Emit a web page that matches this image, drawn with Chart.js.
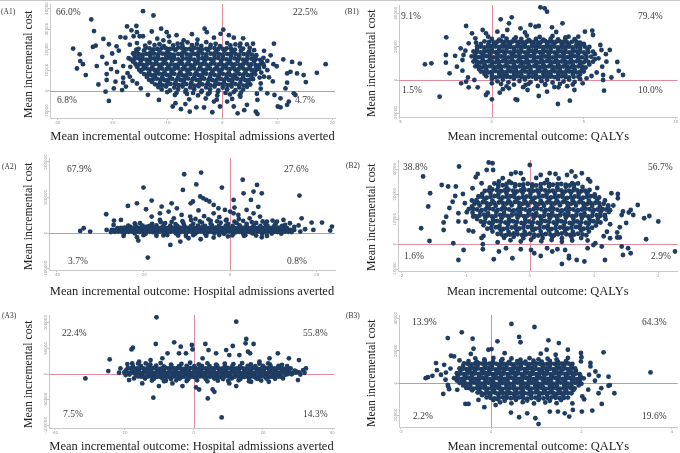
<!DOCTYPE html>
<html>
<head>
<meta charset="utf-8">
<script src="https://cdn.jsdelivr.net/npm/chart.js@4.4.1/dist/chart.umd.min.js"></script>
<style>
  body { margin: 0; background: #fff; }
  #fig { position: relative; width: 680px; height: 453px; overflow: hidden; background: #fff; }
  #topline { position: absolute; left: 0; top: 0; width: 680px; height: 1px; background: #c8c8c8; }
  .panel { position: absolute; }
  .tag, .pct { position: absolute; font-family: "Liberation Serif", serif; line-height: 1; transform: translateY(-50%); white-space: nowrap; }
  .tag { font-size: 7.5px; color: #333; }
  .pct { font-size: 9.5px; color: #3a3a3a; }
</style>
</head>
<body>
<div id="fig"><div id="topline"></div></div>
<script>
// titles
const costTitle = "Mean incremental cost";
const outcomeHosp = "Mean incremental outcome: Hospital admissions averted";
const outcomeQaly = "Mean incremental outcome: QALYs";

// quadrant shares: NW, NE, SW, SE
const a1Quadrants = ["66.0%", "22.5%", "6.8%", "4.7%"];
const b1Quadrants = ["9.1%", "79.4%", "1.5%", "10.0%"];
const a2Quadrants = ["67.9%", "27.6%", "3.7%", "0.8%"];
const b2Quadrants = ["38.8%", "56.7%", "1.6%", "2.9%"];
const a3Quadrants = ["22.4%", "55.8%", "7.5%", "14.3%"];
const b3Quadrants = ["13.9%", "64.3%", "2.2%", "19.6%"];

// tick values
const a1XTicks = [-30, -20, -10, 0, 10, 20];
const a1YTicks = [-10000, 0, 10000, 20000, 30000, 40000];
const b1XTicks = [-5, 0, 5, 10];
const b1YTicks = [-20000, 0, 20000, 40000];
const a2XTicks = [-40, -20, 0, 20];
const a2YTicks = [-100000, 0, 100000, 200000];
const b2XTicks = [-2, -1, 0, 1, 2];
const b2YTicks = [-10000, 0, 10000, 20000, 30000];
const a3XTicks = [-40, -20, 0, 20, 40];
const a3YTicks = [-100000, -50000, 0, 50000, 100000];
const b3XTicks = [-2, 0, 2, 4];
const b3YTicks = [-20000, 0, 20000, 40000];

// bootstrap replicates: [outcome, cost in thousands]
const a1Points = [
  [-14.4,38.7],[-12.5,36.6],[-23.8,34.7],[-23.3,29.0],[-27.1,20.5],[-25.9,17.7],[-25.8,14.4],[-26.4,10.8],[-25.3,12.9],[-24.8,7.6],
  [-23.5,21.3],[-23.0,21.9],[-21.6,25.2],[-20.6,22.6],[-21.8,16.5],[-21.0,13.2],[-21.0,8.1],[-21.0,5.2],[-21.2,-0.5],[-20.6,-5.0],
  [-19.7,1.1],[-19.4,4.4],[-19.1,9.2],[-20.0,18.1],[-19.2,21.6],[-18.5,26.1],[-17.6,25.8],[-18.2,0.3],[-18.0,3.9],[-17.3,31.3],
  [-16.5,29.4],[-15.6,31.5],[-15.5,28.5],[-16.1,26.5],[-15.0,26.5],[-14.4,26.5],[-15.5,23.2],[-15.6,20.0],[-16.2,18.1],[-16.7,11.6],
  [-16.8,6.8],[-15.5,3.5],[-14.8,1.1],[-11.1,30.2],[-10.1,28.5],[-11.8,25.3],[-10.7,24.5],[-9.7,26.5],[-9.0,-7.7],[-8.5,-6.1],
  [-6.7,-6.5],[-5.9,-10.2],[-4.7,-8.1],[-3.3,-8.2],[-3.2,30.2],[-2.8,28.5],[-0.3,27.7],[0.2,29.7],[-7.0,24.5],[-7.3,22.9],
  [-4.5,24.8],[2.1,25.8],[3.3,22.9],[5.6,22.9],[5.8,19.7],[9.4,22.9],[8.2,14.5],[9.3,12.9],[11.1,15.2],[9.9,11.9],
  [12.7,14.0],[14.1,13.2],[12.4,9.2],[11.8,8.4],[13.6,8.4],[14.8,7.6],[17.2,8.7],[18.8,12.9],[15.2,4.2],[11.8,3.9],
  [11.5,1.1],[10.6,-3.7],[10.1,-7.7],[10.6,-8.1],[11.8,-6.9],[12.1,-5.3],[13.3,-2.1],[13.0,-1.3],[9.5,-2.1],[8.2,-1.3],
  [6.4,-4.5],[6.1,-10.2],[6.4,-11.3],[2.8,-11.0],[2.1,-7.7],[4.5,-6.9],[-0.4,-7.7],[-1.5,-5.3],[0.9,-5.3],[3.3,-2.9],
  [7.0,3.5],[7.6,6.8],[8.2,10.0],[6.1,10.0],[7.6,11.6],
  [-18,12],[-17,15.8],[-18.8,19.5],[-17.2,8.5],[-19.5,14],[-16.8,22.4],[-18,6.3],[-20.2,10.5],[-17.5,2],[-16.3,4.8],
  [7.5,16],[8.5,6.5],[9.2,4.5],[7,1],[6.3,-1.5],[8.8,17.2],[5,20.8],[4.5,22.5],[7.6,19.4],[-22.5,3],
  [-22.8,12],[-13.5,-2],[-11.5,-4.5],[-7.5,-9],[-1.8,-10.5],[4,-9.5],[-12.8,28.8],[-8.3,27],[-5.5,27.5],[-1.5,25.8],
  [1.2,27],[3.8,25.5],
  [-13.2,23.4],[-11.4,22.6],[-9.6,23.8],[-8.1,22.9],[-6.3,23.5],[-4.6,22.7],[-2.9,23.6],[-1.2,22.8],[0.9,23.2],[2.4,22.5],
  [-14.0,21.9],[-12.3,22.2],[-10.6,21.7],[-8.9,22.1],[-7.2,21.6],[-5.5,22.2],[-3.8,21.8],[-2.1,22.3],[-0.4,21.7],[1.5,22.0],[3.2,21.5],
  [-15.2,20.4],[-13.9,20.9],[-12.5,20.1],[-11.0,20.7],[-9.5,20.3],[-8.0,21.0],[-6.6,20.2],[-5.1,20.8],[-3.7,20.1],[-2.2,20.9],
  [-0.7,20.3],[0.8,20.6],[2.3,20.0],[3.8,20.5],
  [-13.2,20.6],[-11.8,20.3],[-10.2,20.6],[-8.8,20.4],[-7.3,20.7],[-5.9,20.4],[-4.4,20.5],[-2.9,20.4],[-1.4,20.7],[0.1,20.4],[1.6,20.3],
  [-15.6,19.2],[-14.2,19.6],[-12.8,19.0],[-11.4,19.5],[-9.9,19.1],[-8.5,19.7],[-7.0,19.2],[-5.5,19.5],[-4.1,19.0],[-2.6,19.6],
  [-1.1,19.1],[0.4,19.5],[1.9,19.0],[3.4,19.4],[4.9,19.1],
  [-16.0,18.1],[-14.5,17.6],[-13.1,18.3],[-11.7,17.7],[-10.2,18.2],[-8.8,17.5],[-7.3,18.1],[-5.8,17.6],[-4.4,18.3],[-2.9,17.7],
  [-1.4,18.2],[0.1,17.5],[1.6,18.1],[3.1,17.6],[4.6,18.0],[6.2,17.3],
  [-15.2,17.9],[-13.8,17.9],[-12.4,18.0],[-10.9,18.0],[-9.5,17.8],[-8.0,17.8],[-6.5,17.9],[-5.1,17.9],[-3.6,18.0],[-2.1,18.0],
  [-0.6,17.8],[0.9,17.8],[2.4,17.9],[3.9,17.8],[5.4,17.6],
  [-15.9,16.9],[-14.5,16.5],[-13.1,17.0],[-11.7,16.6],[-10.2,17.1],[-8.8,16.4],[-7.3,16.9],[-5.8,16.5],[-4.4,17.0],[-2.9,16.6],
  [-1.4,17.1],[0.1,16.4],[1.6,16.9],[3.1,16.5],[4.6,16.9],[6.0,16.4],
  [-16.6,15.2],[-15.2,15.8],[-13.8,15.1],[-12.4,15.7],[-10.9,15.3],[-9.5,15.9],[-8.0,15.2],[-6.5,15.7],[-5.1,15.1],[-3.6,15.8],
  [-2.1,15.3],[-0.7,15.9],[0.8,15.2],[2.3,15.7],[3.8,15.1],[5.3,15.6],[6.9,15.0],
  [-15.9,15.5],[-14.5,15.4],[-13.1,15.4],[-11.6,15.5],[-10.2,15.6],[-8.7,15.5],[-7.2,15.4],[-5.8,15.4],[-4.3,15.5],[-2.8,15.6],
  [-1.4,15.6],[0.1,15.5],[1.5,15.4],[3.0,15.4],[4.5,15.3],[6.1,15.3],
  [-16.2,14.1],[-14.8,14.5],[-13.4,14.0],[-12.0,14.4],[-10.5,14.0],[-9.1,14.6],[-7.6,14.1],[-6.1,14.4],[-4.7,13.9],[-3.2,14.5],
  [-1.7,14.0],[-0.2,14.4],[1.3,13.9],[2.8,14.5],[4.3,14.0],[5.8,14.3],[7.2,13.9],
  [-15.8,13.1],[-14.4,12.6],[-13.0,13.3],[-11.6,12.7],[-10.2,13.2],[-8.7,12.5],[-7.3,13.1],[-5.8,12.6],[-4.3,13.3],[-2.9,12.7],
  [-1.4,13.2],[0.1,12.5],[1.6,13.1],[3.1,12.6],[4.6,13.2],[6.1,12.4],[7.5,12.9],
  [-15.1,12.8],[-13.7,12.9],[-12.3,13.0],[-10.9,12.9],[-9.4,12.8],[-8.0,12.8],[-6.5,12.8],[-5.0,12.9],[-3.6,13.0],[-2.1,12.9],
  [-0.6,12.8],[0.8,12.8],[2.3,12.8],[3.8,12.9],[5.3,12.8],[6.8,12.6],
  [-15.5,11.7],[-14.1,12.0],[-12.7,11.5],[-11.3,12.0],[-9.8,11.6],[-8.4,12.1],[-6.9,11.6],[-5.4,12.0],[-4.0,11.5],[-2.5,12.1],
  [-1.0,11.6],[0.5,12.0],[2.0,11.5],[3.5,12.0],[5.0,11.6],[6.4,11.9],
  [-15.1,10.2],[-13.7,10.8],[-12.3,10.1],[-10.9,10.7],[-9.4,10.3],[-8.0,10.9],[-6.5,10.2],[-5.1,10.8],[-3.6,10.1],[-2.2,10.7],
  [-0.7,10.2],[0.8,10.9],[2.3,10.3],[3.8,10.8],[5.3,10.1],[6.7,10.6],
  [-14.4,10.5],[-13.0,10.4],[-11.6,10.4],[-10.1,10.5],[-8.7,10.6],[-7.2,10.5],[-5.8,10.5],[-4.3,10.4],[-2.9,10.4],[-1.4,10.4],
  [0.0,10.5],[1.5,10.6],[3.0,10.5],[4.5,10.4],[6.0,10.3],
  [-14.8,9.3],[-13.3,8.9],[-11.9,9.4],[-10.5,8.9],[-9.1,9.5],[-7.6,9.0],[-6.2,9.4],[-4.7,8.9],[-3.3,9.5],[-1.8,9.0],
  [-0.3,9.4],[1.2,8.9],[2.7,9.5],[4.2,9.0],[5.7,9.3],[7.1,8.8],
  [-14.2,8.1],[-12.9,7.6],[-11.5,8.3],[-10.1,7.7],[-8.7,8.2],[-7.2,7.5],[-5.8,8.1],[-4.3,7.6],[-2.9,8.3],[-1.4,7.7],
  [0.1,8.2],[1.6,7.5],[3.1,8.1],[4.6,7.6],[6.0,8.0],
  [-13.5,7.8],[-12.2,7.9],[-10.8,8.0],[-9.4,7.9],[-7.9,7.8],[-6.5,7.8],[-5.0,7.8],[-3.6,7.9],[-2.1,8.0],[-0.6,7.9],
  [0.8,7.8],[2.3,7.8],[3.8,7.8],[5.3,7.8],
  [-13.7,6.7],[-12.3,7.0],[-10.9,6.5],[-9.5,7.1],[-8.0,6.6],[-6.6,7.0],[-5.1,6.5],[-3.7,7.1],[-2.2,6.6],[-0.7,7.0],
  [0.8,6.5],[2.3,7.0],[3.8,6.6],[5.3,6.9],[6.8,6.4],
  [-13.3,5.3],[-11.9,5.8],[-10.5,5.1],[-9.1,5.7],[-7.6,5.2],[-6.2,5.9],[-4.7,5.3],[-3.3,5.8],[-1.8,5.1],[-0.3,5.7],
  [1.2,5.2],[2.7,5.8],[4.2,5.1],[5.6,5.6],
  [-12.6,5.5],[-11.2,5.4],[-9.8,5.4],[-8.3,5.4],[-6.9,5.5],[-5.4,5.6],[-4.0,5.5],[-2.5,5.4],[-1.0,5.4],[0.4,5.4],
  [1.9,5.5],[3.4,5.4],[4.9,5.3],
  [-12.8,4.3],[-11.3,3.9],[-9.9,4.4],[-8.5,3.9],[-7.0,4.5],[-5.6,4.0],[-4.1,4.4],[-2.6,3.9],[-1.2,4.5],[0.3,4.0],
  [1.8,4.4],[3.3,3.9],[4.7,4.3],
  [-12.2,3.1],[-10.8,2.6],[-9.4,3.3],[-7.9,2.7],[-6.5,3.2],[-5.0,2.5],[-3.6,3.1],[-2.1,2.6],[-0.6,3.3],[0.9,2.7],
  [2.4,3.2],[3.9,2.5],[5.1,3.0],
  [-11.5,2.8],[-10.1,2.9],[-8.6,3.0],[-7.2,2.9],[-5.7,2.8],[-4.3,2.8],[-2.8,2.8],[-1.3,2.9],[0.1,3.0],[1.6,2.9],
  [3.1,2.8],[4.5,2.7],
  [-11.6,1.7],[-10.2,2.0],[-8.7,1.5],[-7.2,2.0],[-5.8,1.6],[-4.3,2.1],[-2.9,1.6],[-1.4,2.0],[0.1,1.5],[1.7,2.0],[3.1,1.6],[4.5,1.9],
  [-11.0,0.6],[-9.5,0.1],[-8.0,0.8],[-6.6,0.2],[-5.1,0.7],[-3.7,0.0],[-2.2,0.6],[-0.7,0.1],[0.9,0.7],[2.4,0.2],[3.8,0.5],
  [-10.0,-0.7],[-8.3,-1.0],[-6.7,-0.6],[-5.3,-1.1],[-3.8,-0.7],[-2.3,-1.0],[-0.8,-0.6],[0.6,-1.1],[2.1,-0.7],[3.4,-1.0],
  [-8.6,-2.1],[-6.4,-1.6],[-4.4,-2.3],[-2.6,-1.7],[-0.9,-2.4],[1.4,-1.8],[3.2,-2.2],
  [-6.0,-4.2],[-3.0,-3.8],[-1.0,-4.4],[1.8,-4.0]
];

const b1Points = [
  [2.64,43.6],[2.87,43.0],[3.0,41.0],[0.48,36.4],[1.08,37.6],[-1.4,32.4],[-2.48,25.6],[-3.64,9.4],[-3.29,10.0],[-2.5,15.0],
  [-2.5,10.4],[-2.3,4.0],[-2.84,-10.0],[-1.67,-2.0],[-1.6,5.6],[-1.54,15.0],[-1.44,17.6],[-1.26,22.0],[-1.08,28.0],[-0.86,22.4],
  [-1.26,-4.4],[-0.77,-4.4],[-0.95,0.0],[-0.5,30.0],[-0.32,28.0],[-0.23,-7.6],[0.0,-11.6],[0.0,-2.0],[0.93,34.0],[0.84,30.0],
  [1.56,31.0],[2.1,33.0],[2.37,32.0],[2.55,32.4],[3.27,31.6],[3.84,34.0],[4.17,26.0],[4.7,26.0],[5.06,29.0],[5.46,29.6],
  [5.5,27.0],[4.8,22.4],[5.96,18.0],[6.41,18.0],[6.23,11.0],[6.82,10.8],[7.13,3.0],[6.05,3.0],[6.05,0.0],[6.1,-6.4],
  [5.42,2.4],[4.24,-12.4],[3.59,-14.4],[2.55,-9.6],[1.29,-11.6],[1.38,-12.0],[0.43,-7.6],[-0.32,-9.0],[0.93,-5.0],[1.94,-6.0],
  [3.0,-7.0],[1.83,-3.0],[3.62,-4.4],[4.49,-6.0],[4.94,-2.0],[5.15,1.0],
  [-1.6,12],[-1.9,8],[-2.0,14.5],[-1.3,1.5],[-1.7,19],[5.8,13],[6.0,8],[5.7,4.5],[6.2,15.5],[5.9,21],
  [-0.2,26],[0.3,29],[1.8,28.5],[3.5,28.8],[4.5,24.5],[-1.4,-1],[6.9,5.5],[6.5,1.5],[-0.9,25],[2.9,-2.5],[0.6,-5.5],
  [0.6,26.3],[1.3,25.6],[1.9,26.6],[2.6,25.8],[3.3,26.4],[4.0,25.5],
  [0.0,24.6],[0.4,24.2],[0.8,24.8],[1.2,24.3],[1.6,24.7],[2.0,24.1],[2.4,24.6],[2.8,24.2],[3.2,24.8],[3.6,24.3],[4.0,24.6],
  [-0.4,23.2],[0.1,22.6],[0.5,23.4],[0.9,22.7],[1.3,23.3],[1.7,22.5],[2.1,23.1],[2.5,22.6],[2.9,23.4],[3.3,22.8],
  [3.7,23.2],[4.1,22.5],[4.6,23.0],
  [-0.6,21.6],[-0.2,21.2],[0.2,21.8],[0.6,21.3],[1.0,21.7],[1.4,21.1],[1.8,21.6],[2.2,21.2],[2.6,21.8],[3.0,21.3],
  [3.4,21.7],[3.8,21.1],[4.2,21.6],[4.6,21.2],[5.0,21.6],
  [-0.8,20.2],[-0.4,19.6],[0.0,20.4],[0.4,19.8],[0.8,20.3],[1.2,19.5],[1.6,20.1],[2.0,19.6],[2.4,20.4],[2.8,19.7],
  [3.2,20.2],[3.6,19.5],[4.0,20.1],[4.4,19.6],[4.8,20.3],[5.3,19.8],
  [-0.8,18.6],[-0.4,18.2],[0.0,18.8],[0.4,18.3],[0.8,18.7],[1.2,18.1],[1.6,18.6],[2.0,18.2],[2.4,18.8],[2.8,18.3],
  [3.2,18.7],[3.6,18.1],[4.0,18.6],[4.4,18.2],[4.8,18.7],[5.2,18.2],
  [-1.0,17.1],[-0.6,16.6],[-0.2,17.3],[0.2,16.7],[0.6,17.2],[1.0,16.5],[1.4,17.1],[1.8,16.6],[2.2,17.3],[2.6,16.7],
  [3.0,17.2],[3.4,16.5],[3.8,17.1],[4.2,16.6],[4.6,17.2],[5.0,16.5],[5.5,17.0],
  [-0.9,15.6],[-0.5,15.2],[-0.1,15.8],[0.3,15.3],[0.7,15.7],[1.1,15.1],[1.5,15.6],[1.9,15.2],[2.3,15.8],[2.7,15.3],
  [3.1,15.7],[3.5,15.1],[3.9,15.6],[4.3,15.2],[4.7,15.7],[5.1,15.2],[5.6,15.5],
  [-1.1,14.2],[-0.7,13.7],[-0.3,14.3],[0.1,13.6],[0.5,14.1],[0.9,13.5],[1.3,14.2],[1.7,13.7],[2.1,14.3],[2.5,13.6],
  [2.9,14.1],[3.3,13.5],[3.7,14.2],[4.1,13.7],[4.5,14.3],[4.9,13.6],[5.4,14.0],
  [-0.9,12.6],[-0.5,12.2],[-0.1,12.8],[0.3,12.3],[0.7,12.7],[1.1,12.1],[1.5,12.6],[1.9,12.2],[2.3,12.8],[2.7,12.3],
  [3.1,12.7],[3.5,12.1],[3.9,12.6],[4.3,12.2],[4.7,12.7],[5.1,12.2],[5.6,12.5],
  [-1.0,11.1],[-0.6,10.5],[-0.2,11.2],[0.2,10.6],[0.6,11.3],[1.0,10.7],[1.4,11.1],[1.8,10.5],[2.2,11.2],[2.6,10.6],
  [3.0,11.3],[3.4,10.7],[3.8,11.1],[4.2,10.5],[4.6,11.2],[5.0,10.6],[5.5,11.0],
  [-0.8,9.6],[-0.4,9.2],[0.0,9.8],[0.4,9.3],[0.8,9.7],[1.2,9.1],[1.6,9.6],[2.0,9.2],[2.4,9.8],[2.8,9.3],
  [3.2,9.7],[3.6,9.1],[4.0,9.6],[4.4,9.2],[4.8,9.7],[5.3,9.3],
  [-0.9,8.2],[-0.5,7.6],[-0.1,8.3],[0.3,7.7],[0.7,8.2],[1.1,7.5],[1.5,8.1],[1.9,7.6],[2.3,8.3],[2.7,7.7],
  [3.1,8.2],[3.5,7.5],[3.9,8.1],[4.3,7.6],[4.7,8.2],[5.1,7.5],
  [-0.7,6.6],[-0.3,6.2],[0.1,6.8],[0.5,6.3],[0.9,6.7],[1.3,6.1],[1.7,6.6],[2.1,6.2],[2.5,6.8],[2.9,6.3],
  [3.3,6.7],[3.7,6.1],[4.1,6.6],[4.5,6.2],[4.9,6.7],
  [-0.6,5.1],[-0.2,4.6],[0.2,5.3],[0.6,4.7],[1.0,5.2],[1.4,4.5],[1.8,5.1],[2.2,4.6],[2.6,5.3],[3.0,4.7],
  [3.4,5.2],[3.8,4.5],[4.2,5.1],[4.6,4.6],[5.0,5.1],
  [-0.4,3.6],[0.0,3.2],[0.4,3.8],[0.8,3.3],[1.2,3.7],[1.6,3.1],[2.0,3.6],[2.4,3.2],[2.8,3.8],[3.2,3.3],
  [3.6,3.7],[4.0,3.1],[4.4,3.6],[4.8,3.3],
  [-0.3,2.2],[0.2,1.6],[0.6,2.3],[1.0,1.7],[1.4,2.2],[1.8,1.5],[2.2,2.1],[2.6,1.6],[3.0,2.3],[3.4,1.7],
  [3.8,2.2],[4.2,1.5],[4.7,2.0],
  [0.0,0.6],[0.6,0.2],[1.2,0.8],[1.8,0.3],[2.4,0.7],[3.0,0.1],[3.6,0.6],[4.2,0.2],[4.8,0.5],
  [0.3,-0.8],[0.9,-1.4],[1.5,-0.6],[2.1,-1.3],[2.7,-0.7],[3.3,-1.5],[3.9,-0.9],[4.5,-1.2],
  [0.5,-2.4],[1.2,-2.8],[2.0,-2.3],[2.9,-2.9],[3.7,-2.4],[4.4,-2.7],
  [0.8,-3.8],[1.7,-4.3],[2.5,-3.6],[3.4,-4.2],[4.1,-3.7]
];
const b1Fill = [
  [-0.15,22.9],[0.3,23.0],[0.7,22.9],[1.1,23.0],[1.5,22.8],[1.9,23.0],[2.3,22.9],[2.7,23.0],[3.1,22.9],[3.5,23.0],[3.9,22.8],[4.35,22.9],
  [-0.6,20.0],[-0.2,19.9],[0.2,20.1],[0.6,20.0],[1.0,19.8],[1.4,20.0],[1.8,19.9],[2.2,20.1],[2.6,20.0],[3.0,19.9],
  [3.4,20.0],[3.8,19.8],[4.2,20.0],[4.6,19.9],[5.05,20.0],
  [-0.8,16.9],[-0.4,17.0],[0.0,16.8],[0.4,17.0],[0.8,16.9],[1.2,16.8],[1.6,17.0],[2.0,16.9],[2.4,17.0],[2.8,16.8],
  [3.2,16.9],[3.6,17.0],[4.0,16.8],[4.4,16.9],[4.8,17.0],[5.25,16.8],
  [-0.9,14.0],[-0.5,13.9],[-0.1,14.1],[0.3,14.0],[0.7,13.8],[1.1,14.0],[1.5,13.9],[1.9,14.1],[2.3,14.0],[2.7,13.9],
  [3.1,13.8],[3.5,14.0],[3.9,13.9],[4.3,14.1],[4.7,13.9],[5.15,13.8],
  [-0.8,10.9],[-0.4,10.8],[0.0,11.0],[0.4,10.9],[0.8,11.0],[1.2,10.8],[1.6,10.9],[2.0,11.0],[2.4,10.8],[2.8,11.0],
  [3.2,10.9],[3.6,10.8],[4.0,11.0],[4.4,10.9],[4.8,10.8],[5.25,10.9],
  [-0.7,7.9],[-0.3,8.0],[0.1,7.8],[0.5,8.0],[0.9,7.9],[1.3,7.8],[1.7,8.0],[2.1,7.9],[2.5,8.0],[2.9,7.8],
  [3.3,7.9],[3.7,8.0],[4.1,7.8],[4.5,7.9],[4.9,8.0],
  [-0.4,4.9],[0.0,4.8],[0.4,5.0],[0.8,4.9],[1.2,4.8],[1.6,5.0],[2.0,4.9],[2.4,4.8],[2.8,5.0],[3.2,4.9],
  [3.6,4.8],[4.0,5.0],[4.4,4.9],[4.8,4.8],
  [0.0,1.9],[0.4,2.0],[0.8,1.9],[1.2,2.0],[1.6,1.8],[2.0,1.9],[2.4,2.0],[2.8,1.9],[3.2,2.0],[3.6,1.9],[4.0,1.8],[4.45,1.9]
];

const a2Points = [
  [-10.6,165.5],[-6.7,170],[-7.8,137],[-10.9,121.5],[-20,128],[-1.9,128],[2.9,150],[6.2,135.6],[16,105.6],[5.4,117],
  [3.1,112],[-6.9,103],[-5.5,93.5],[-6.2,98],[-9.1,84],[-8.6,89],[-4.8,89],[-3.8,79.5],[0.8,93.5],[4.8,93.5],
  [7.3,112],[-21.5,84],[-23.6,76.7],[-19.4,67.3],[-18.1,91.6],[-15.8,74.8],[-13.5,84],[-16.2,56],[-14.2,60.8],[-12.3,70],
  [-28.6,53.3],[-26.8,35.5],[-25.2,37.4],[-26.9,23.4],[-28.5,9.4],[-34.6,6.5],[-33.8,14],[-32.3,4.7],[-27.3,9.4],[-24.6,-7.5],
  [-21.5,-11.2],[-21.2,-20.6],[-13.8,-32.7],[-19,-68.3],[-11.5,-23.4],[-9.6,-14],[-6.8,-16.8],[-3.8,-12],[7.3,-11.2],[8.5,-7.5],
  [6.9,46.8],[8.5,32.7],[12.3,37.4],[13.8,28],[16.5,42],[18.8,30],[21.2,30],[23.5,18.7],[23.1,7.5],[19.2,9.4],
  [17.3,11.2],[16.2,4.7],[13.5,9.4],[10.8,4.7],[12.7,23.4],[10.8,32.7],[9.8,35.5],[0.8,56],[0,60.8],[1.9,51.4],
  [-1.2,65.5],[-3.8,56],[3.8,65.5],[5.4,56],[-9.2,46.8],[-11.2,51.4],[-16.2,37.4],[-18.1,46.8],[-20.8,28],[-19.2,18.7],
  [-2.5,45],[-6,48],[-8,40],[-13,42],[2,40],[4.5,42],[-4.5,35],[-0.8,38],[1,72],[-7.3,64],
  [-2.7,70],[6.5,74],[-10.2,-8],[-15.4,-6],[-0.5,-9],[3.2,-7],[-23,18],[-25,9],[14.8,18],[15.8,22],
  [-11,34],[-9,37],[-7,33],[-5,39],[-3,33.5],[-1,36],[1,32.5],[3,35],[5,31.5],[-13.5,32],[-16,31],[7.5,33],
  [-22,27.5],[-18,26],[-15,28.5],[-12.6,25.8],[-10.8,29],[-8.5,26.5],[-6.5,30],[-4.5,27],[-2.2,29.5],[-0.5,26],
  [1.5,28.5],[3.8,26.5],[6,29],[8.2,25.5],[10.5,27],
  [-23.5,21],[-21.8,20.5],[-20.2,21.5],[-18.6,20.8],[-17,21.8],[-15.4,20.6],[-13.8,21.4],[-12.2,20.7],[-10.6,21.9],[-9,20.5],
  [-7.4,21.6],[-5.8,20.9],[-4.2,22],[-2.6,20.6],[-1,21.5],[0.6,20.8],[2.2,21.7],[3.8,20.5],[5.4,21.3],[7,20.6],
  [8.6,21.2],[10.2,20.4],[12,20.9],
  [-26,14.5],[-24.4,16],[-22.9,14],[-21.4,15.8],[-19.9,14.6],[-18.4,16.3],[-16.9,14.2],[-15.4,15.6],[-13.9,14.8],[-12.4,16.5],
  [-10.9,14.3],[-9.4,15.9],[-7.9,14.5],[-6.4,16.8],[-4.9,14.1],[-3.4,16],[-1.9,14.7],[-0.4,16.4],[1.1,14.3],[2.6,15.7],
  [4.1,14.5],[5.6,16.2],[7.1,14.1],[8.6,15.5],[10.1,14.4],[11.6,15.9],[13.1,14.2],
  [-26.8,9.2],[-25.2,10],[-23.6,9.4],[-22,10.2],[-20.4,9.1],[-18.8,9.9],[-17.2,9.3],[-15.6,10.1],[-14,9.2],[-12.4,10],
  [-10.8,9.4],[-9.2,10.2],[-7.6,9.1],[-6,9.9],[-4.4,9.3],[-2.8,10.1],[-1.2,9.2],[0.4,10],[2,9.4],[3.6,10.2],
  [5.2,9.1],[6.8,9.9],[8.4,9.3],[10,10.1],[11.6,9.2],[13.2,9.8],[14.8,9.4],
  [-27.5,3.5],[-25.8,5],[-24.2,3.2],[-22.6,4.8],[-21,3.6],[-19.4,5.3],[-17.8,3.1],[-16.2,4.6],[-14.6,3.4],[-13,5.1],
  [-11.4,3.3],[-9.8,4.9],[-8.2,3],[-6.6,4.7],[-5,3.5],[-3.4,5.2],[-1.8,3.2],[-0.2,4.8],[1.4,3.4],[3,5],
  [4.6,3.1],[6.2,4.6],[7.8,3.5],[9.4,5],[11,3.2],[12.6,4.4],[14.2,3.6],
  [-24.5,-1.2],[-22,-0.5],[-19.5,-1.4],[-17,-0.6],[-14.8,-1.3],[-12.5,-0.4],[-10.2,-1.5],[-8,-0.7],[-5.8,-1.2],[-3.6,-0.5],
  [-1.4,-1.4],[0.8,-0.6],[3,-1.3],[5.2,-0.5],[7.4,-1.2],[9.6,-0.6],[11.8,-1.1],
  [-20,-5.5],[-17,-7],[-14.5,-5],[-12,-6.5],[-8.5,-5.5],[-5.5,-7],[-2.5,-5],[0.5,-6],[3.5,-5.5],[6,-6.5]
];
const a2Fill = [
  [-25.2,15.2],[-23.6,15.0],[-22.1,15.3],[-20.6,15.1],[-19.1,15.4],[-17.6,15.2],[-16.1,15.0],[-14.6,15.3],[-13.1,15.1],[-11.6,15.4],
  [-10.1,15.2],[-8.6,15.0],[-7.1,15.3],[-5.6,15.1],[-4.1,15.4],[-2.6,15.2],[-1.1,15.0],[0.4,15.3],[1.9,15.1],[3.4,15.4],
  [4.9,15.2],[6.4,15.0],[7.9,15.3],[9.4,15.1],[10.9,15.4],[12.4,15.2],
  [-26,9.6],[-24.4,9.5],[-22.8,9.7],[-21.2,9.6],[-19.6,9.5],[-18,9.6],[-16.4,9.7],[-14.8,9.5],[-13.2,9.6],[-11.6,9.7],
  [-10,9.5],[-8.4,9.6],[-6.8,9.7],[-5.2,9.5],[-3.6,9.6],[-2,9.7],[-0.4,9.5],[1.2,9.6],[2.8,9.7],[4.4,9.5],
  [6,9.6],[7.6,9.7],[9.2,9.5],[10.8,9.6],[12.4,9.7],[14,9.5],
  [-26.6,4.2],[-25,4.0],[-23.4,4.1],[-21.8,4.3],[-20.2,4.0],[-18.6,4.2],[-17,4.1],[-15.4,4.0],[-13.8,4.3],[-12.2,4.1],
  [-10.6,4.0],[-9,4.2],[-7.4,4.1],[-5.8,4.0],[-4.2,4.3],[-2.6,4.1],[-1,4.0],[0.6,4.2],[2.2,4.1],[3.8,4.0],
  [5.4,4.3],[7,4.1],[8.6,4.0],[10.2,4.2],[11.8,4.1],[13.4,4.0]
];

const b2Points = [
  [-1.66,27.1],[-1.69,6.4],[-1.56,1.3],[-1.58,15.1],[-1.55,20.4],[-1.37,23.7],[-1.27,23.1],[-1.15,23.1],[-1.34,8.7],[-1.34,5.7],
  [-1.19,0.4],[-1.16,19.3],[-1.11,12.4],[-1.11,9.1],[-1.10,31.1],[-1.03,-2.3],[-1.11,-6.3],[-1.01,16.4],[-0.98,12.8],[-1.04,20.1],
  [-0.89,22.4],[-0.88,11.1],[-0.88,5.1],[-0.84,26.8],[-0.81,28.1],[-0.79,19.1],[-0.75,24.4],[-0.73,0],[-0.72,3.3],[-0.73,-2],
  [-0.64,32.7],[-0.58,32.4],[-0.67,29.7],[-0.57,29.7],[-0.56,-6],[-0.48,-2.9],[-0.37,-1.6],[-0.27,-5.6],[-0.14,-2],[0,31.7],
  [0.02,-2.3],[0.07,-3.6],[0.17,-4.7],[0.27,-1.6],[0.35,-2.9],[0.43,-2],[0.50,-7.9],[0.55,-2.3],[0.61,-5.6],[0.61,-4.7],
  [0.73,-6.3],[0.85,-6.9],[0.90,-1.6],[0.99,-0.3],[1.12,-0.9],[1.02,0.4],[1.17,-6.3],[1.25,2.4],[1.36,2.7],[1.40,2.7],
  [1.43,-0.9],[1.45,-4.3],[1.57,-3.6],[1.53,-1.6],[1.81,2],[2.0,9.1],[2.26,-2.9],[1.86,11.3],[1.78,10.4],[1.61,11.7],
  [1.68,15.7],[1.57,13.7],[1.54,12.7],[1.45,13.1],[1.43,11.7],[1.40,6.8],[1.36,4.7],[1.37,18.4],[1.27,20.4],[1.37,20.1],
  [1.22,15.1],[1.17,11.7],[1.12,13.7],[0.94,25.1],[0.91,26],[0.81,28.4],[0.71,27.1],[0.65,29.1],[0.66,24.4],[0.58,27.7],
  [0.40,28.1],[0.31,28.4],[0.27,25.7],[0.17,27.7],[-0.22,28.7],[-0.29,28.1],[-0.14,28.4],[-0.32,25.1],[-0.42,26.4],[-0.48,25.1],
  [-1.0,9],[-0.95,14],[-0.9,17.5],[1.25,8],[1.3,15.5],[1.2,5],[-0.75,2.5],[-0.5,0.8],[0.9,1.5],[1.05,22.5],
  [0.9,20.7],[-0.95,5.5],[1.5,8.5],[-1.25,14.5],[-1.3,11],[0.1,26.5],[-0.1,26],[0.45,26.3],[-1.2,17],[1.15,3.2],
  [-0.55,24.3],[-0.42,23.6],[-0.29,24.5],[-0.16,23.7],[-0.03,24.2],[0.1,23.5],[0.23,24.4],[0.36,23.8],[0.49,24.1],[0.62,23.5],[0.75,24.3],
  [-0.62,22.7],[-0.49,23.0],[-0.36,22.5],[-0.23,23.1],[-0.1,22.6],[0.04,23.0],[0.17,22.5],[0.3,23.1],[0.43,22.7],[0.56,23.0],[0.69,22.6],[0.82,22.9],
  [-0.7,21.3],[-0.58,21.9],[-0.45,21.2],[-0.33,21.8],[-0.2,21.1],[-0.08,21.7],[0.05,21.3],[0.18,21.9],[0.3,21.2],[0.43,21.8],
  [0.55,21.1],[0.68,21.6],[0.8,21.2],[0.93,21.7],
  [-0.74,20.1],[-0.61,20.5],[-0.49,19.9],[-0.36,20.4],[-0.24,20.0],[-0.11,20.6],[0.01,20.1],[0.14,20.5],[0.26,19.9],[0.39,20.4],
  [0.51,20.0],[0.64,20.6],[0.76,20.1],[0.89,20.4],[1.01,19.9],
  [-0.8,19.1],[-0.67,18.6],[-0.55,19.3],[-0.42,18.7],[-0.3,19.2],[-0.17,18.5],[-0.05,19.1],[0.08,18.6],[0.2,19.3],[0.33,18.7],
  [0.45,19.2],[0.58,18.5],[0.7,19.1],[0.83,18.6],[0.95,19.2],[1.08,18.7],
  [-0.83,17.6],[-0.7,18.0],[-0.58,17.4],[-0.45,17.9],[-0.33,17.5],[-0.2,18.1],[-0.08,17.6],[0.05,18.0],[0.17,17.4],[0.3,17.9],
  [0.42,17.5],[0.55,18.1],[0.67,17.6],[0.8,18.0],[0.92,17.4],[1.05,17.9],[1.17,17.5],
  [-0.86,16.2],[-0.73,16.8],[-0.61,16.1],[-0.48,16.7],[-0.36,16.3],[-0.23,16.9],[-0.11,16.2],[0.02,16.8],[0.14,16.1],[0.27,16.7],
  [0.39,16.3],[0.52,16.9],[0.64,16.2],[0.77,16.8],[0.89,16.1],[1.02,16.6],[1.15,16.2],
  [-0.9,15.1],[-0.78,15.5],[-0.66,14.9],[-0.53,15.4],[-0.41,15.0],[-0.28,15.6],[-0.16,15.1],[-0.03,15.5],[0.09,14.9],[0.22,15.4],
  [0.34,15.0],[0.47,15.6],[0.59,15.1],[0.72,15.5],[0.84,14.9],[0.97,15.4],[1.09,15.0],[1.22,15.5],
  [-0.88,14.1],[-0.75,13.6],[-0.63,14.3],[-0.5,13.7],[-0.38,14.2],[-0.25,13.5],[-0.13,14.1],[0.0,13.6],[0.12,14.3],[0.25,13.7],
  [0.37,14.2],[0.5,13.5],[0.62,14.1],[0.75,13.6],[0.87,14.2],[1.0,13.7],[1.13,14.1],[1.25,13.6],
  [-0.89,12.6],[-0.77,13.0],[-0.65,12.4],[-0.52,12.9],[-0.4,12.5],[-0.27,13.1],[-0.15,12.6],[-0.02,13.0],[0.1,12.4],[0.23,12.9],
  [0.35,12.5],[0.48,13.1],[0.6,12.6],[0.73,13.0],[0.85,12.4],[0.98,12.9],[1.1,12.5],[1.23,12.9],
  [-0.84,11.2],[-0.71,11.8],[-0.59,11.1],[-0.46,11.7],[-0.34,11.3],[-0.21,11.9],[-0.09,11.2],[0.04,11.8],[0.16,11.1],[0.29,11.7],
  [0.41,11.3],[0.54,11.9],[0.66,11.2],[0.79,11.8],[0.91,11.1],[1.04,11.6],[1.17,11.2],
  [-0.82,10.1],[-0.69,10.5],[-0.57,9.9],[-0.44,10.4],[-0.32,10.0],[-0.19,10.6],[-0.07,10.1],[0.06,10.5],[0.18,9.9],[0.31,10.4],
  [0.43,10.0],[0.56,10.6],[0.68,10.1],[0.81,10.5],[0.93,9.9],[1.06,10.3],[1.18,10.0],
  [-0.76,9.1],[-0.63,8.6],[-0.51,9.3],[-0.38,8.7],[-0.26,9.2],[-0.13,8.5],[-0.01,9.1],[0.12,8.6],[0.24,9.3],[0.37,8.7],
  [0.49,9.2],[0.62,8.5],[0.74,9.1],[0.87,8.6],[0.99,9.2],[1.1,8.7],
  [-0.72,7.6],[-0.59,8.0],[-0.47,7.4],[-0.34,7.9],[-0.22,7.5],[-0.09,8.1],[0.03,7.6],[0.16,8.0],[0.28,7.4],[0.41,7.9],
  [0.53,7.5],[0.66,8.1],[0.78,7.6],[0.91,8.0],[1.03,7.5],
  [-0.66,6.2],[-0.53,6.8],[-0.41,6.1],[-0.28,6.7],[-0.16,6.3],[-0.03,6.9],[0.09,6.2],[0.22,6.8],[0.34,6.1],[0.47,6.7],
  [0.59,6.3],[0.72,6.9],[0.84,6.2],[0.97,6.6],
  [-0.58,5.1],[-0.45,5.5],[-0.33,4.9],[-0.2,5.4],[-0.08,5.0],[0.05,5.6],[0.17,5.1],[0.3,5.5],[0.42,4.9],[0.55,5.4],
  [0.67,5.0],[0.8,5.5],[0.92,5.1],
  [-0.5,4.1],[-0.37,3.6],[-0.25,4.3],[-0.12,3.7],[0.0,4.2],[0.13,3.5],[0.25,4.1],[0.38,3.6],[0.5,4.3],[0.63,3.7],[0.75,4.2],[0.88,3.6],
  [-0.4,2.6],[-0.25,3.0],[-0.1,2.4],[0.06,2.9],[0.2,2.5],[0.35,3.0],[0.5,2.4],[0.65,2.9],[0.8,2.5],
  [-0.3,1.6],[-0.14,1.1],[0.02,1.8],[0.18,1.2],[0.34,1.7],[0.5,1.0],[0.66,1.5]
];
const b2Fill = [
  [-0.49,24.0],[-0.36,24.1],[-0.23,24.0],[-0.1,23.9],[0.04,23.9],[0.17,24.0],[0.3,24.1],[0.43,24.0],[0.56,23.8],[0.69,23.9],
  [-0.64,21.5],[-0.51,21.6],[-0.39,21.5],[-0.26,21.4],[-0.14,21.5],[-0.01,21.6],[0.11,21.5],[0.24,21.5],[0.36,21.4],[0.49,21.5],
  [0.61,21.4],[0.74,21.5],[0.86,21.4],
  [-0.74,19.0],[-0.61,18.9],[-0.49,19.0],[-0.36,19.0],[-0.24,18.9],[-0.11,18.8],[0.01,18.9],[0.14,19.0],[0.26,19.0],[0.39,18.9],
  [0.51,18.9],[0.64,18.8],[0.76,18.9],[0.89,18.9],[1.01,19.0],
  [-0.8,16.5],[-0.67,16.4],[-0.55,16.5],[-0.42,16.5],[-0.3,16.6],[-0.17,16.5],[-0.05,16.5],[0.08,16.4],[0.2,16.4],[0.33,16.5],
  [0.45,16.6],[0.58,16.5],[0.7,16.5],[0.83,16.4],[0.95,16.4],[1.08,16.4],
  [-0.82,13.9],[-0.69,13.9],[-0.57,14.0],[-0.44,14.0],[-0.32,13.9],[-0.19,13.8],[-0.07,13.9],[0.06,14.0],[0.18,14.0],[0.31,13.9],
  [0.43,13.8],[0.56,13.9],[0.68,13.9],[0.81,13.9],[0.93,14.0],[1.06,13.9],[1.19,13.9],
  [-0.78,11.5],[-0.65,11.5],[-0.53,11.4],[-0.4,11.5],[-0.28,11.6],[-0.15,11.6],[-0.03,11.5],[0.1,11.5],[0.22,11.4],[0.35,11.5],
  [0.47,11.6],[0.6,11.6],[0.72,11.5],[0.85,11.5],[0.97,11.4],[1.1,11.4],
  [-0.7,8.9],[-0.57,8.9],[-0.45,9.0],[-0.32,9.0],[-0.2,8.9],[-0.07,8.8],[0.05,8.8],[0.18,8.9],[0.3,9.0],[0.43,9.0],
  [0.55,8.9],[0.68,8.8],[0.8,8.8],[0.93,8.9],[1.05,8.9],
  [-0.6,6.5],[-0.47,6.4],[-0.35,6.4],[-0.22,6.5],[-0.1,6.6],[0.03,6.5],[0.15,6.5],[0.28,6.4],[0.4,6.4],[0.53,6.5],
  [0.65,6.6],[0.78,6.5],[0.9,6.4],
  [-0.44,3.9],[-0.31,3.9],[-0.19,4.0],[-0.06,3.9],[0.07,3.8],[0.19,3.8],[0.32,3.9],[0.44,4.0],[0.57,4.0],[0.69,3.9],[0.82,3.9]
];

const a3Points = [
  [-10.7,110.5],[12.3,102],[-11.6,-46],[4.1,-47.5],[8.1,-84.5],[-31.2,-8.5],[-24.6,5.9],[-24.2,28.6],[-17.9,48],[-17.5,51.4],
  [-10.9,58.5],[-5.6,61.8],[-3.7,53.3],[-4.2,40.3],[-0.5,56.6],[3.4,58.5],[11.3,54.6],[6.5,40.3],[15.2,68.3],[15.0,59.8],
  [17.3,58.5],[15.7,43.6],[16.3,40.3],[24.3,40.3],[27.5,30.6],[30.4,27.3],[32.4,11],[30.1,-11.7],[24.6,-3.9],[25.8,-8.5],
  [21.7,-15],[16.6,-15],[12.3,-23.4],[1.6,-30],[0.7,-26],[5.5,-30],[6.0,-34.5],[-3.2,-23.4],[-10.0,-23.4],[-14.8,-18.2],
  [-18.6,-11.7],[-17.2,-8.5],[-21.1,11],[-19.1,19.5],[-17.7,20.8],[-15.7,24],[-13.8,20.8],[-12.4,27.3],[-9.0,30.6],[-7.5,40.3],
  [-2.2,40.3],[-0.3,48],[4.3,46.8],[2.6,30.6],[9.4,46.8],[10.3,37],[13.2,37],[19.0,24],[21.9,30.6],[21.5,20.8],
  [-21.5,2.6],[-19.6,-2],[-8.0,-13],[-6.1,-18.2],[10.3,-18.2],[18.1,-8.5],[27.2,0],[29.7,4.5],[31.6,7.8],
  [-16,20.5],[-12.5,19],[-9.5,21.5],[-6.5,18.5],[-3.5,20],[-1,22],[1.5,19],[4,21],[6.5,18.5],[9,20.5],
  [11.5,19.5],[14,21.5],[16.5,18.8],[19,20.2],[22,19],[25.5,18],
  [-17.5,15.2],[-15.2,16],[-13,15.5],[-10.8,16.2],[-8.6,15.1],[-6.4,15.9],[-4.2,15.3],[-2,16.1],[0.2,15.2],[2.4,16],
  [4.6,15.4],[6.8,16.2],[9,15.1],[11.2,15.9],[13.4,15.3],[15.6,16.1],[17.8,15.2],[20,15.8],[22.2,15.4],[24.5,16],[27,15.2],
  [-19,11.5],[-17.2,10.2],[-15.4,12],[-13.6,10.5],[-11.8,11.8],[-10,10],[-8.2,12.3],[-6.4,10.6],[-4.6,11.9],[-2.8,10.1],
  [-1,12.2],[0.8,10.4],[2.6,11.7],[4.4,10],[6.2,12.1],[8,10.5],[9.8,11.8],[11.6,10.2],[13.4,12],[15.2,10.4],
  [17,11.6],[18.8,10.1],[20.6,11.9],[22.4,10.3],[24.2,11.5],[26,10],[28,11],
  [-19.5,7.2],[-17.7,6.5],[-15.9,7.5],[-14.1,6.8],[-12.3,7.4],[-10.5,6.6],[-8.7,7.6],[-6.9,6.7],[-5.1,7.3],[-3.3,6.5],
  [-1.5,7.5],[0.3,6.8],[2.1,7.4],[3.9,6.6],[5.7,7.6],[7.5,6.7],[9.3,7.3],[11.1,6.5],[12.9,7.5],[14.7,6.8],
  [16.5,7.4],[18.3,6.6],[20.1,7.6],[21.9,6.7],[23.7,7.3],[25.5,6.5],[27.3,7.5],[29.2,6.8],
  [-20,3.2],[-18.2,2.1],[-16.4,3.8],[-14.6,2.4],[-12.8,3.6],[-11,2],[-9.2,3.9],[-7.4,2.3],[-5.6,3.5],[-3.8,1.9],
  [-2,3.7],[-0.2,2.2],[1.6,3.9],[3.4,2.1],[5.2,3.4],[7,2],[8.8,3.8],[10.6,2.3],[12.4,3.6],[14.2,1.9],
  [16,3.7],[17.8,2.2],[19.6,3.5],[21.4,2],[23.2,3.8],[25,2.4],[26.8,3.6],[28.6,2.1],[30.5,3.3],[32,2.5],
  [-18.5,-0.8],[-16.7,-1.5],[-14.9,-0.5],[-13.1,-1.2],[-11.3,-0.6],[-9.5,-1.4],[-7.7,-0.4],[-5.9,-1.3],[-4.1,-0.7],[-2.3,-1.5],
  [-0.5,-0.5],[1.3,-1.2],[3.1,-0.6],[4.9,-1.4],[6.7,-0.4],[8.5,-1.3],[10.3,-0.7],[12.1,-1.5],[13.9,-0.5],[15.7,-1.2],
  [17.5,-0.6],[19.3,-1.4],[21.1,-0.4],[22.9,-1.3],[24.7,-0.7],[26.5,-1.5],[28.3,-0.5],[30.8,-1],
  [-16,-4.5],[-14.2,-5.8],[-12.4,-4.2],[-10.6,-5.6],[-8.8,-4.4],[-7,-6],[-5.2,-4.1],[-3.4,-5.7],[-1.6,-4.3],[0.2,-5.9],
  [2,-4.2],[3.8,-5.5],[5.6,-4.5],[7.4,-6],[9.2,-4.2],[11,-5.8],[12.8,-4.4],[14.6,-5.6],[16.4,-4.1],[18.2,-5.7],
  [20,-4.3],[21.8,-5.9],[23.6,-4.6],[25.4,-5.5],
  [-14,-8.8],[-11.5,-9.5],[-9,-8.5],[-6.5,-9.6],[-4,-8.7],[-1.5,-9.4],[1,-8.6],[3.5,-9.5],[6,-8.8],[8.5,-9.6],
  [11,-8.5],[13.5,-9.4],[16,-8.7],[18.5,-9.5],[21,-8.6],[23.5,-9.2],
  [-12,-12.5],[-8.5,-14],[-5,-12],[-2,-13.5],[1,-12.2],[4,-14.2],[7,-12.8],[10,-13.5],[13,-12],[16,-14],[19.5,-12.6]
];
const a3Fill = [
  [-18.1,10.9],[-16.3,11.0],[-14.5,11.1],[-12.7,10.9],[-10.9,10.8],[-9.1,11.0],[-7.3,11.1],[-5.5,10.9],[-3.7,10.8],[-1.9,11.0],
  [-0.1,11.1],[1.7,10.9],[3.5,10.8],[5.3,11.0],[7.1,11.1],[8.9,10.9],[10.7,10.8],[12.5,11.0],[14.3,11.1],[16.1,10.9],
  [17.9,10.8],[19.7,11.0],[21.5,11.1],[23.3,10.9],[25.1,10.8],[27,11.0],
  [-19.1,2.8],[-17.3,3.0],[-15.5,3.1],[-13.7,2.9],[-11.9,2.8],[-10.1,3.0],[-8.3,3.1],[-6.5,2.9],[-4.7,2.8],[-2.9,3.0],
  [-1.1,3.1],[0.7,2.9],[2.5,2.8],[4.3,3.0],[6.1,3.1],[7.9,2.9],[9.7,2.8],[11.5,3.0],[13.3,3.1],[15.1,2.9],
  [16.9,2.8],[18.7,3.0],[20.5,3.1],[22.3,2.9],[24.1,2.8],[25.9,3.0],[27.7,3.1],[29.5,2.9],
  [-15.1,-5.0],[-13.3,-5.1],[-11.5,-4.9],[-9.7,-5.0],[-7.9,-5.2],[-6.1,-5.0],[-4.3,-4.9],[-2.5,-5.1],[-0.7,-5.0],[1.1,-5.1],
  [2.9,-4.9],[4.7,-5.0],[6.5,-5.2],[8.3,-5.0],[10.1,-4.9],[11.9,-5.1],[13.7,-5.0],[15.5,-4.9],[17.3,-5.1],[19.1,-5.0],
  [20.9,-5.2],[22.7,-5.0],[24.5,-4.9]
];

const b3Points = [
  [0.45,36.5],[0.96,34.6],[-0.65,31.3],[-0.96,27.8],[-0.41,27.4],[0.62,28.5],[0.14,25.8],[0.65,25.2],[1.50,24.7],[1.27,26.4],
  [-0.39,21.2],[-0.06,20.6],[0.01,21.0],[-0.89,16.9],[-0.82,16.5],[-1.22,12.4],[-1.40,3.7],[-1.30,4.5],[-1.11,5.2],[-1.04,11.3],
  [-0.96,-1.0],[-1.06,-6.6],[-0.75,-4.1],[-0.57,-12.8],[-0.50,-12.8],[-0.28,-10.3],[-0.15,-14.8],[0.15,-9.9],[0.44,-18.1],[0.62,-21],
  [0.80,-18.6],[0.98,-21.6],[1.05,-25.2],[1.30,-17.5],[1.48,-17.5],[1.63,-18.6],[1.73,-20.6],[1.81,-16.5],[2.01,-17.5],[2.24,-16.9],
  [2.45,-12.8],[2.06,-9.9],[2.02,-8.2],[2.38,-6.2],[2.44,-3.1],[2.60,-1.6],[2.73,-6.2],[2.63,-1.2],[2.49,19],[2.20,10.3],
  [1.99,18.6],[1.99,13.4],[2.31,7.2],[2.38,4.5],[2.17,5.2],[3.53,6.6],[1.70,20.6],[1.43,17.5],[1.23,20.6],[-1.45,3.1],
  [-1.01,2.1],[-0.93,-3.7],
  [-0.9,9],[-1.0,6.5],[-0.95,-2],[2.2,12.5],[2.3,1.5],[2.15,-4],[-0.45,18],[0.3,18.5],[1.1,18.2],[1.7,15.5],
  [-1.2,8],[0.1,-13.5],[1.8,-12.5],[2.6,4],[-0.7,14],[2.0,16],
  [-0.35,15.3],[-0.15,14.6],[0.05,15.5],[0.25,14.8],[0.45,15.2],[0.65,14.5],[0.85,15.4],[1.05,14.7],[1.25,15.1],[1.45,14.6],
  [-0.5,13.6],[-0.32,13.2],[-0.14,13.8],[0.04,13.3],[0.22,13.7],[0.4,13.1],[0.58,13.6],[0.76,13.2],[0.94,13.8],[1.12,13.3],
  [1.3,13.7],[1.48,13.2],[1.66,13.6],
  [-0.6,12.2],[-0.44,11.6],[-0.28,12.4],[-0.12,11.8],[0.04,12.3],[0.2,11.5],[0.36,12.1],[0.52,11.6],[0.68,12.4],[0.84,11.7],
  [1.0,12.2],[1.16,11.5],[1.32,12.1],[1.48,11.6],[1.64,12.3],[1.8,11.8],
  [-0.62,10.6],[-0.46,10.2],[-0.3,10.8],[-0.14,10.3],[0.02,10.7],[0.18,10.1],[0.34,10.6],[0.5,10.2],[0.66,10.8],[0.82,10.3],
  [0.98,10.7],[1.14,10.1],[1.3,10.6],[1.46,10.2],[1.62,10.8],[1.78,10.3],
  [-0.7,9.1],[-0.54,8.6],[-0.38,9.3],[-0.22,8.7],[-0.06,9.2],[0.1,8.5],[0.26,9.1],[0.42,8.6],[0.58,9.3],[0.74,8.7],
  [0.9,9.2],[1.06,8.5],[1.22,9.1],[1.38,8.6],[1.54,9.3],[1.7,8.7],[1.86,9.1],
  [-0.68,7.6],[-0.52,7.2],[-0.36,7.8],[-0.2,7.3],[-0.04,7.7],[0.12,7.1],[0.28,7.6],[0.44,7.2],[0.6,7.8],[0.76,7.3],
  [0.92,7.7],[1.08,7.1],[1.24,7.6],[1.4,7.2],[1.56,7.8],[1.72,7.3],[1.88,7.6],
  [-0.76,6.1],[-0.6,5.6],[-0.44,6.3],[-0.28,5.7],[-0.12,6.2],[0.04,5.5],[0.2,6.1],[0.36,5.6],[0.52,6.3],[0.68,5.7],
  [0.84,6.2],[1.0,5.5],[1.16,6.1],[1.32,5.6],[1.48,6.3],[1.64,5.7],[1.8,6.2],[1.96,5.6],
  [-0.74,4.6],[-0.58,4.2],[-0.42,4.8],[-0.26,4.3],[-0.1,4.7],[0.06,4.1],[0.22,4.6],[0.38,4.2],[0.54,4.8],[0.7,4.3],
  [0.86,4.7],[1.02,4.1],[1.18,4.6],[1.34,4.2],[1.5,4.8],[1.66,4.3],[1.82,4.7],[1.98,4.2],
  [-0.82,3.1],[-0.66,2.6],[-0.5,3.3],[-0.34,2.7],[-0.18,3.2],[-0.02,2.5],[0.14,3.1],[0.3,2.6],[0.46,3.3],[0.62,2.7],
  [0.78,3.2],[0.94,2.5],[1.1,3.1],[1.26,2.6],[1.42,3.3],[1.58,2.7],[1.74,3.2],[1.9,2.5],[2.05,3.0],
  [-0.76,1.6],[-0.6,1.2],[-0.44,1.8],[-0.28,1.3],[-0.12,1.7],[0.04,1.1],[0.2,1.6],[0.36,1.2],[0.52,1.8],[0.68,1.3],
  [0.84,1.7],[1.0,1.1],[1.16,1.6],[1.32,1.2],[1.48,1.8],[1.64,1.3],[1.8,1.7],[1.96,1.2],
  [-0.7,0.2],[-0.54,-0.4],[-0.38,0.3],[-0.22,-0.3],[-0.06,0.2],[0.1,-0.5],[0.26,0.1],[0.42,-0.4],[0.58,0.3],[0.74,-0.3],
  [0.9,0.2],[1.06,-0.5],[1.22,0.1],[1.38,-0.4],[1.54,0.3],[1.7,-0.3],[1.86,0.2],[2.0,-0.4],
  [-0.62,-1.4],[-0.46,-1.8],[-0.3,-1.2],[-0.14,-1.7],[0.02,-1.3],[0.18,-1.9],[0.34,-1.4],[0.5,-1.8],[0.66,-1.2],[0.82,-1.7],
  [0.98,-1.3],[1.14,-1.9],[1.3,-1.4],[1.46,-1.8],[1.62,-1.2],[1.78,-1.7],[1.94,-1.4],
  [-0.55,-2.9],[-0.39,-3.4],[-0.23,-2.7],[-0.07,-3.3],[0.09,-2.8],[0.25,-3.5],[0.41,-2.9],[0.57,-3.4],[0.73,-2.7],[0.89,-3.3],
  [1.05,-2.8],[1.21,-3.5],[1.37,-2.9],[1.53,-3.4],[1.69,-2.7],[1.85,-3.2],
  [-0.42,-4.4],[-0.26,-4.8],[-0.1,-4.2],[0.06,-4.7],[0.22,-4.3],[0.38,-4.9],[0.54,-4.4],[0.7,-4.8],[0.86,-4.2],[1.02,-4.7],
  [1.18,-4.3],[1.34,-4.9],[1.5,-4.4],[1.66,-4.8],[1.82,-4.3],
  [-0.3,-5.8],[-0.14,-6.4],[0.02,-5.7],[0.18,-6.3],[0.34,-5.8],[0.5,-6.5],[0.66,-5.9],[0.82,-6.4],[0.98,-5.7],[1.14,-6.3],
  [1.3,-5.8],[1.46,-6.5],[1.62,-5.9],[1.78,-6.2],
  [-0.2,-7.4],[-0.02,-7.8],[0.16,-7.2],[0.34,-7.7],[0.52,-7.3],[0.7,-7.9],[0.88,-7.4],[1.06,-7.8],[1.24,-7.2],[1.42,-7.7],[1.6,-7.3],
  [-0.1,-8.8],[0.08,-9.4],[0.26,-8.7],[0.44,-9.3],[0.62,-8.8],[0.8,-9.5],[0.98,-8.9],[1.16,-9.4],[1.34,-8.7],[1.52,-9.3],[1.7,-8.9],
  [0.05,-10.4],[0.3,-10.8],[0.55,-10.2],[0.8,-10.7],[1.05,-10.3],[1.3,-10.9],[1.55,-10.4],
  [0.2,-11.8],[0.45,-12.4],[0.7,-11.7],[0.95,-12.5],[1.2,-11.9],[1.45,-12.3]
];
const b3Fill = [
  [-0.52,11.9],[-0.36,12.0],[-0.2,12.1],[-0.04,12.0],[0.12,11.9],[0.28,11.8],[0.44,11.9],[0.6,12.0],[0.76,12.1],[0.92,12.0],
  [1.08,11.9],[1.24,11.8],[1.4,11.9],[1.56,12.0],[1.72,12.0],
  [-0.62,8.9],[-0.46,8.9],[-0.3,9.0],[-0.14,9.0],[0.02,8.9],[0.18,8.8],[0.34,8.8],[0.5,8.9],[0.66,9.0],[0.82,9.0],
  [0.98,8.9],[1.14,8.8],[1.3,8.8],[1.46,8.9],[1.62,9.0],[1.78,8.9],
  [-0.68,5.9],[-0.52,6.0],[-0.36,6.0],[-0.2,5.9],[-0.04,5.8],[0.12,5.8],[0.28,5.9],[0.44,6.0],[0.6,6.0],[0.76,5.9],
  [0.92,5.8],[1.08,5.8],[1.24,5.9],[1.4,6.0],[1.56,6.0],[1.72,5.9],[1.88,5.9],
  [-0.74,2.9],[-0.58,2.9],[-0.42,3.0],[-0.26,3.0],[-0.1,2.9],[0.06,2.8],[0.22,2.8],[0.38,2.9],[0.54,3.0],[0.7,3.0],
  [0.86,2.9],[1.02,2.8],[1.18,2.8],[1.34,2.9],[1.5,3.0],[1.66,3.0],[1.82,2.9],[1.98,2.8],
  [-0.62,0.0],[-0.46,-0.1],[-0.3,0.0],[-0.14,0.1],[0.02,0.0],[0.18,-0.1],[0.34,-0.1],[0.5,0.0],[0.66,0.1],[0.82,0.0],
  [0.98,-0.1],[1.14,-0.1],[1.3,0.0],[1.46,0.1],[1.62,0.0],[1.78,-0.1],[1.94,0.0],
  [-0.47,-3.1],[-0.31,-3.1],[-0.15,-3.0],[0.01,-3.0],[0.17,-3.1],[0.33,-3.2],[0.49,-3.2],[0.65,-3.1],[0.81,-3.0],[0.97,-3.0],
  [1.13,-3.1],[1.29,-3.2],[1.45,-3.2],[1.61,-3.1],[1.77,-3.0],
  [-0.22,-6.1],[-0.06,-6.0],[0.1,-6.0],[0.26,-6.1],[0.42,-6.2],[0.58,-6.2],[0.74,-6.1],[0.9,-6.0],[1.06,-6.0],[1.22,-6.1],
  [1.38,-6.2],[1.54,-6.2],[1.7,-6.1],
  [-0.01,-9.1],[0.17,-9.0],[0.35,-9.0],[0.53,-9.1],[0.71,-9.2],[0.89,-9.2],[1.07,-9.1],[1.25,-9.0],[1.43,-9.0],[1.61,-9.1]
];

// layout of the six panels (page pixels) and axis ranges
const panels = [
  { tag: "(A1)", pts: a1Points, quad: a1Quadrants, xt: a1XTicks, yt: a1YTicks, xTitle: outcomeHosp,
    box: [0, 0, 340, 150], area: [50, 4, 335, 118], xr: [-31.3, 20.5], yr: [-13300, 42200],
    tagAt: [1, 12], quadAt: [[56, 13], [293, 13], [57, 101], [295, 101]], yTitleX: 29, xTitleY: 137 },
  { tag: "(B1)", pts: b1Points.concat(b1Fill), quad: b1Quadrants, xt: b1XTicks, yt: b1YTicks, xTitle: outcomeQaly,
    box: [340, 0, 340, 150], area: [399, 5, 680, 117], xr: [-5.05, 10.1], yr: [-22200, 45000],
    tagAt: [345, 12], quadAt: [[401, 17], [638, 17], [402, 91], [638, 91]], yTitleX: 372, xTitleY: 137 },
  { tag: "(A2)", pts: a2Points.concat(a2Fill), quad: a2Quadrants, xt: a2XTicks, yt: a2YTicks, xTitle: outcomeHosp,
    box: [0, 150, 340, 150], area: [49, 158, 335, 270], xr: [-41.8, 24.2], yr: [-103000, 211000],
    tagAt: [2, 167], quadAt: [[67, 170], [284, 170], [68, 262], [287, 262]], yTitleX: 29, xTitleY: 292 },
  { tag: "(B2)", pts: b2Points.concat(b2Fill), quad: b2Quadrants, xt: b2XTicks, yt: b2YTicks, xTitle: outcomeQaly,
    box: [340, 150, 340, 150], area: [398, 160, 680, 271], xr: [-2.05, 2.3], yr: [-10700, 33700],
    tagAt: [346, 166], quadAt: [[403, 168], [648, 168], [404, 257], [651, 257]], yTitleX: 372, xTitleY: 292 },
  { tag: "(A3)", pts: a3Points.concat(a3Fill), quad: a3Quadrants, xt: a3XTicks, yt: a3YTicks, xTitle: outcomeHosp,
    box: [0, 300, 340, 153], area: [49, 315, 334, 428], xr: [-41.7, 40.5], yr: [-105000, 115000],
    tagAt: [2, 316], quadAt: [[62, 334], [303, 334], [63, 415], [303, 415]], yTitleX: 29, xTitleY: 447 },
  { tag: "(B3)", pts: b3Points.concat(b3Fill), quad: b3Quadrants, xt: b3XTicks, yt: b3YTicks, xTitle: outcomeQaly,
    box: [340, 300, 340, 153], area: [399, 315, 680, 427], xr: [-2.04, 4.13], yr: [-27000, 42000],
    tagAt: [346, 316], quadAt: [[412, 323], [642, 323], [413, 417], [642, 417]], yTitleX: 372, xTitleY: 447 }
];

const dotColor = "#1f3d63";
const refColor = "#e08a9c";
const axisColor = "#c9c9c9";
const serif = '"Liberation Serif", "Times New Roman", serif';

// red reference lines at zero outcome / zero cost, under the dots
const zeroLines = {
  id: "zeroLines",
  beforeDatasetsDraw(chart) {
    const { ctx, chartArea: a, scales: { x, y } } = chart;
    const px = Math.round(x.getPixelForValue(0)) + 0.5;
    const py = Math.round(y.getPixelForValue(0)) + 0.5;
    ctx.save();
    ctx.strokeStyle = refColor;
    ctx.lineWidth = 1;
    ctx.beginPath();
    ctx.moveTo(px, a.top);
    ctx.lineTo(px, a.bottom);
    ctx.moveTo(a.left, py);
    ctx.lineTo(a.right, py);
    ctx.stroke();
    ctx.restore();
  }
};

// stata-style rotated y tick labels
const yTickLabels = {
  id: "yTickLabels",
  afterDraw(chart) {
    const s = chart.scales.y;
    const ctx = chart.ctx;
    ctx.save();
    ctx.fillStyle = "#9a9a9a";
    ctx.font = '4px "DejaVu Sans"';
    ctx.textAlign = "center";
    ctx.textBaseline = "bottom";
    s.ticks.forEach(t => {
      ctx.save();
      ctx.translate(s.right - 1.5, s.getPixelForValue(t.value));
      ctx.rotate(-Math.PI / 2);
      ctx.fillText(String(t.value), 0, 0);
      ctx.restore();
    });
    ctx.restore();
  }
};

const fig = document.getElementById("fig");

panels.forEach(p => {
  const [L, T, W, H] = p.box;
  const [cl, ct, cr, cb] = p.area;

  const wrap = document.createElement("div");
  wrap.className = "panel";
  wrap.style.left = L + "px";
  wrap.style.top = T + "px";
  wrap.style.width = W + "px";
  wrap.style.height = H + "px";
  const cv = document.createElement("canvas");
  cv.width = W;
  cv.height = H;
  cv.style.width = W + "px";
  cv.style.height = H + "px";
  wrap.appendChild(cv);
  fig.appendChild(wrap);

  const noLine = "rgba(0,0,0,0)";

  new Chart(cv, {
    type: "scatter",
    data: {
      datasets: [{
        data: p.pts.map(d => ({ x: d[0], y: d[1] * 1000 })),
        backgroundColor: dotColor,
        borderWidth: 0,
        pointRadius: 2.4,
        pointHoverRadius: 2.4
      }]
    },
    options: {
      responsive: false,
      animation: false,
      events: [],
      layout: { padding: { left: 0, top: ct - T, right: L + W - cr, bottom: 0 } },
      plugins: { legend: { display: false }, tooltip: { enabled: false } },
      scales: {
        x: {
          type: "linear",
          min: p.xr[0],
          max: p.xr[1],
          afterBuildTicks: s => { s.ticks = p.xt.map(v => ({ value: v })); },
          afterFit: s => { s.height = T + H - cb; s.paddingLeft = 0; s.paddingRight = 0; },
          grid: { color: noLine, tickColor: axisColor, tickLength: 2, lineWidth: 1 },
          border: { color: axisColor, width: 1 },
          ticks: { color: "#9a9a9a", font: { size: 4, family: "DejaVu Sans" }, padding: 1, maxRotation: 0, autoSkip: false },
          title: {
            display: true, text: p.xTitle, color: "#222",
            font: { family: serif, size: 12.5, lineHeight: 1 },
            padding: { top: 0, bottom: Math.max(0, T + H - p.xTitleY - 6.25) }
          }
        },
        y: {
          type: "linear",
          min: p.yr[0],
          max: p.yr[1],
          afterBuildTicks: s => { s.ticks = p.yt.map(v => ({ value: v })); },
          afterFit: s => { s.width = cl - L; s.paddingTop = 0; s.paddingBottom = 0; },
          grid: { color: noLine, tickColor: axisColor, tickLength: 2, lineWidth: 1 },
          border: { color: axisColor, width: 1 },
          ticks: { display: false },
          title: {
            display: true, text: costTitle, color: "#222", align: "start",
            font: { family: serif, size: 11.8, lineHeight: 1 },
            padding: { top: p.yTitleX - L - 5.9, bottom: 0 }
          }
        }
      }
    },
    plugins: [zeroLines, yTickLabels]
  });

  const tag = document.createElement("div");
  tag.className = "tag";
  tag.textContent = p.tag;
  tag.style.left = p.tagAt[0] + "px";
  tag.style.top = p.tagAt[1] + "px";
  fig.appendChild(tag);

  p.quad.forEach((txt, i) => {
    const d = document.createElement("div");
    d.className = "pct";
    d.textContent = txt;
    d.style.left = p.quadAt[i][0] + "px";
    d.style.top = p.quadAt[i][1] + "px";
    fig.appendChild(d);
  });
});
</script>
</body>
</html>
